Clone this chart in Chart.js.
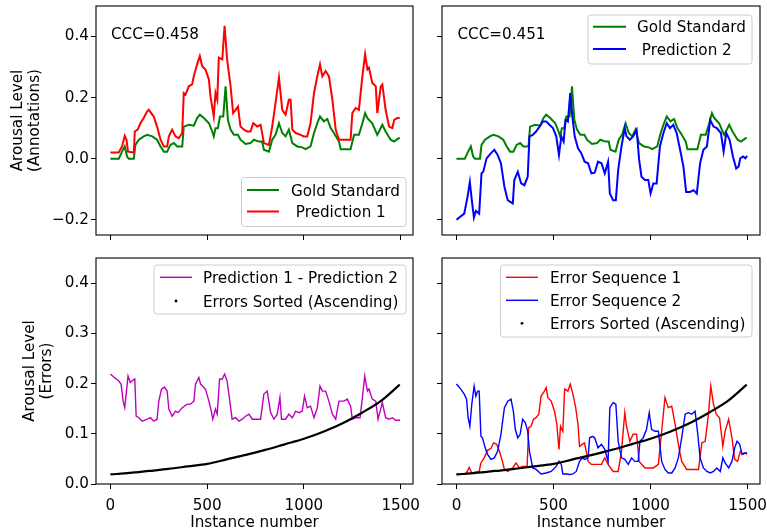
<!DOCTYPE html>
<html>
<head>
<meta charset="utf-8">
<script src="https://cdn.jsdelivr.net/npm/chart.js@4.4.0/dist/chart.umd.min.js"></script>
<style>
    html, body { margin: 0; padding: 0; background: #fff; }
    #wrap { position: relative; width: 767px; height: 531px; }
    #wrap canvas { position: absolute; left: 0; top: 0; }
</style>
</head>
<body>
<div id="wrap">
    <canvas id="annot1" width="767" height="531"></canvas>
    <canvas id="annot2" width="767" height="531"></canvas>
    <canvas id="errors1" width="767" height="531"></canvas>
    <canvas id="errors2" width="767" height="531"></canvas>
</div>
<script>
// --- Data (instance number, arousal level) ---
const xTicks = [0, 500, 1000, 1500];
const yTicksAnnot = [-0.2, 0.0, 0.2, 0.4];
const yTicksErr = [0.0, 0.1, 0.2, 0.3, 0.4];

const goldStandard = [[0,0],[43,0],[60,0.023],[74,0.040],[86,0.007],[95,0],[121,0],[129,0.045],[147,0.062],[172,0.073],
    [190,0.078],[216,0.073],[241,0.062],[259,0.040],[276,0.023],[293,0.023],[310,0.045],[328,0.051],[345,0.040],[371,0.040],
    [379,0.105],[405,0.111],[431,0.108],[448,0.133],[462,0.144],[483,0.133],[509,0.116],[526,0.089],[534,0.073],[543,0.100],
    [555,0.100],[566,0.138],[583,0.138],[595,0.237],[607,0.127],[621,0.095],[638,0.078],[659,0.078],[672,0.062],[698,0.048],
    [724,0.051],[741,0.062],[767,0.056],[784,0.056],[793,0.029],[819,0.023],[836,0.062],[853,0.078],[871,0.116],[888,0.084],
    [905,0.073],[922,0.095],[940,0.051],[966,0.040],[991,0.037],[1009,0.031],[1034,0.040],[1052,0.084],[1069,0.116],[1083,0.138],
    [1103,0.122],[1121,0.130],[1138,0.100],[1155,0.084],[1181,0.056],[1190,0.031],[1241,0.031],[1259,0.078],[1284,0.078],[1302,0.116],
    [1316,0.149],[1328,0.133],[1353,0.116],[1379,0.078],[1405,0.111],[1422,0.089],[1448,0.062],[1466,0.056],[1483,0.064],[1495,0.069]];

const prediction1 = [[0,0.020],[43,0.020],[60,0.040],[74,0.075],[83,0.062],[91,0.023],[121,0.020],[126,0.089],[141,0.095],[155,0.116],
    [172,0.133],[190,0.155],[198,0.160],[224,0.138],[241,0.105],[259,0.062],[276,0.040],[293,0.040],[302,0.073],[319,0.095],
    [336,0.073],[353,0.067],[371,0.084],[379,0.215],[388,0.210],[405,0.237],[422,0.243],[431,0.270],[448,0.309],[462,0.336],
    [474,0.303],[491,0.292],[509,0.259],[517,0.204],[534,0.138],[543,0.215],[552,0.193],[560,0.331],[578,0.325],[590,0.435],
    [603,0.325],[621,0.237],[634,0.149],[647,0.160],[659,0.171],[672,0.105],[690,0.095],[707,0.089],[724,0.089],[738,0.116],
    [759,0.105],[776,0.111],[793,0.051],[819,0.045],[836,0.105],[853,0.182],[871,0.265],[888,0.160],[905,0.144],[922,0.193],
    [931,0.193],[940,0.095],[957,0.084],[983,0.078],[1000,0.073],[1017,0.073],[1034,0.116],[1052,0.215],[1069,0.270],[1083,0.309],
    [1095,0.270],[1112,0.287],[1129,0.270],[1147,0.193],[1164,0.095],[1181,0.062],[1241,0.062],[1250,0.149],[1267,0.166],[1284,0.160],
    [1302,0.270],[1316,0.342],[1328,0.292],[1336,0.298],[1353,0.248],[1371,0.237],[1379,0.149],[1397,0.237],[1405,0.243],[1422,0.160],
    [1440,0.105],[1457,0.100],[1466,0.127],[1483,0.133],[1495,0.133]];

const prediction2 = [[0,-0.200],[40,-0.180],[57,-0.125],[69,-0.076],[79,-0.136],[90,-0.193],[100,-0.171],[117,-0.180],[129,-0.048],[138,-0.043],
    [155,0.001],[178,0.018],[195,0.029],[212,0.012],[229,-0.015],[247,-0.092],[264,-0.136],[290,-0.147],[298,-0.070],[316,-0.043],
    [333,-0.081],[350,-0.087],[367,-0.059],[376,0.073],[393,0.078],[410,0.089],[428,0.105],[445,0.122],[462,0.122],[479,0.111],
    [497,0.100],[514,0.073],[528,0.012],[540,0.073],[552,0.056],[562,0.127],[574,0.122],[586,0.215],[597,0.138],[609,0.073],
    [626,0.034],[643,0.018],[660,-0.010],[678,-0.015],[695,-0.048],[712,-0.046],[729,-0.010],[747,-0.015],[764,-0.048],[781,-0.010],
    [790,-0.114],[807,-0.136],[821,-0.136],[833,-0.037],[850,0.040],[867,0.100],[876,0.073],[893,0.062],[910,0.073],[928,0.095],
    [941,-0.004],[953,-0.059],[971,-0.070],[988,-0.070],[1000,-0.114],[1014,-0.081],[1031,-0.081],[1048,0.040],[1066,0.084],[1083,0.116],
    [1100,0.100],[1117,0.111],[1134,0.084],[1152,0.029],[1169,-0.026],[1183,-0.109],[1203,-0.109],[1221,-0.103],[1238,-0.114],[1255,-0.015],
    [1272,0.029],[1290,0.040],[1307,0.127],[1324,0.105],[1341,0.100],[1362,0.084],[1376,0.023],[1390,0.084],[1407,0.062],[1424,0.007],
    [1441,-0.032],[1453,-0.026],[1462,0.001],[1476,0.007],[1488,0.001],[1497,0.009]];

const predDiff = [[0,0.219],[17,0.213],[43,0.205],[55,0.199],[66,0.165],[74,0.152],[83,0.185],[91,0.215],[103,0.202],[117,0.207],
    [126,0.209],[133,0.135],[147,0.132],[164,0.125],[190,0.129],[207,0.132],[224,0.125],[241,0.129],[250,0.165],[264,0.189],
    [279,0.193],[293,0.185],[302,0.149],[319,0.135],[336,0.145],[350,0.142],[371,0.152],[397,0.159],[414,0.159],[431,0.165],
    [440,0.199],[457,0.212],[466,0.199],[491,0.189],[509,0.165],[521,0.145],[529,0.129],[543,0.149],[552,0.139],[564,0.209],
    [578,0.209],[590,0.219],[603,0.205],[617,0.165],[629,0.129],[647,0.132],[664,0.125],[681,0.129],[698,0.135],[716,0.139],
    [733,0.129],[759,0.129],[776,0.129],[793,0.179],[810,0.185],[828,0.142],[845,0.129],[862,0.139],[876,0.172],[884,0.129],
    [905,0.129],[922,0.139],[940,0.132],[957,0.145],[974,0.142],[991,0.145],[1003,0.175],[1017,0.152],[1034,0.155],[1052,0.132],
    [1069,0.152],[1083,0.195],[1095,0.185],[1112,0.185],[1129,0.165],[1147,0.139],[1164,0.129],[1181,0.165],[1207,0.165],[1224,0.169],
    [1241,0.155],[1250,0.129],[1267,0.132],[1290,0.132],[1302,0.172],[1314,0.215],[1328,0.185],[1336,0.189],[1353,0.169],[1371,0.165],
    [1383,0.129],[1405,0.162],[1422,0.132],[1440,0.129],[1457,0.132],[1474,0.127],[1497,0.127]];

const errorSeq1 = [[0,0.019],[48,0.020],[66,0.033],[79,0.022],[117,0.025],[126,0.042],[143,0.052],[160,0.067],[178,0.071],[191,0.082],
    [207,0.079],[221,0.065],[234,0.049],[247,0.029],[264,0.025],[290,0.032],[307,0.042],[324,0.032],[341,0.035],[364,0.035],
    [372,0.112],[384,0.115],[397,0.129],[410,0.132],[424,0.139],[436,0.175],[453,0.185],[462,0.192],[471,0.172],[488,0.165],
    [505,0.145],[517,0.119],[528,0.069],[536,0.115],[548,0.105],[557,0.189],[574,0.185],[586,0.199],[600,0.179],[614,0.152],
    [626,0.119],[634,0.075],[648,0.079],[660,0.082],[678,0.045],[695,0.039],[721,0.039],[747,0.039],[764,0.052],[781,0.039],
    [807,0.025],[833,0.025],[850,0.065],[867,0.142],[876,0.115],[893,0.085],[910,0.099],[928,0.099],[941,0.045],[971,0.032],
    [997,0.032],[1014,0.032],[1040,0.039],[1057,0.105],[1074,0.172],[1091,0.152],[1109,0.155],[1126,0.119],[1143,0.079],[1160,0.045],
    [1186,0.029],[1221,0.029],[1247,0.029],[1264,0.082],[1281,0.085],[1298,0.139],[1310,0.195],[1324,0.159],[1338,0.139],[1355,0.132],
    [1372,0.075],[1384,0.105],[1402,0.129],[1419,0.092],[1433,0.049],[1448,0.045],[1462,0.065],[1476,0.059],[1488,0.062],[1497,0.059]];

const errorSeq2 = [[0,0.199],[22,0.189],[40,0.179],[52,0.169],[60,0.132],[69,0.115],[79,0.159],[91,0.195],[100,0.175],[109,0.185],
    [117,0.185],[126,0.095],[134,0.092],[148,0.072],[160,0.059],[178,0.049],[195,0.052],[212,0.065],[229,0.099],[247,0.152],
    [264,0.165],[281,0.169],[293,0.145],[303,0.109],[316,0.092],[328,0.099],[341,0.129],[355,0.122],[367,0.105],[376,0.065],
    [393,0.032],[410,0.029],[436,0.020],[462,0.022],[488,0.025],[514,0.035],[528,0.045],[540,0.039],[548,0.020],[566,0.020],
    [583,0.019],[600,0.020],[617,0.025],[634,0.045],[648,0.052],[660,0.049],[678,0.052],[686,0.092],[700,0.095],[712,0.092],
    [729,0.072],[747,0.079],[764,0.069],[781,0.045],[790,0.152],[807,0.162],[821,0.159],[833,0.085],[850,0.052],[867,0.049],
    [885,0.039],[902,0.052],[919,0.045],[936,0.045],[945,0.085],[962,0.092],[979,0.109],[993,0.142],[1005,0.109],[1022,0.105],
    [1040,0.105],[1057,0.045],[1074,0.029],[1091,0.022],[1109,0.022],[1126,0.032],[1143,0.052],[1160,0.092],[1178,0.139],[1195,0.142],
    [1212,0.139],[1229,0.145],[1243,0.099],[1255,0.052],[1272,0.032],[1290,0.025],[1307,0.022],[1324,0.025],[1341,0.032],[1359,0.025],
    [1372,0.052],[1384,0.042],[1402,0.032],[1419,0.045],[1433,0.072],[1445,0.085],[1459,0.079],[1471,0.059],[1483,0.062],[1497,0.062]];

const errorsSorted = [[0,0.019],[100,0.022],[200,0.026],[300,0.030],[400,0.035],[500,0.040],[600,0.049],[700,0.058],
    [800,0.068],[900,0.079],[1000,0.090],[1100,0.104],[1200,0.121],[1300,0.142],[1400,0.166],[1495,0.198]];

// --- Layout helpers ---
const W = 767, H = 531;
const X_MIN = -74.5, X_MAX = 1563.5;
const FONT = { family: 'DejaVu Sans', size: 15.2 };

Chart.defaults.color = '#000';
Chart.defaults.font.family = FONT.family;

const pts = arr => arr.map(p => ({ x: p[0], y: p[1] }));
const fmtY = v => (v < 0 ? '\u2212' + Math.abs(v).toFixed(1) : v.toFixed(1));

// full black frame round the plot area (matplotlib spines)
const framePlugin = {
    id: 'frame',
    afterDraw(chart) {
        const a = chart.chartArea, ctx = chart.ctx;
        ctx.save();
        ctx.strokeStyle = '#000';
        ctx.lineWidth = 1.1;
        ctx.strokeRect(a.left, a.top, a.right - a.left, a.bottom - a.top);
        ctx.restore();
    }
};

// legend box drawn inside the axes, plus the CCC note
function overlayPlugin(lg, note) {
    return {
        id: 'overlay',
        afterDraw(chart) {
            const ctx = chart.ctx;
            ctx.save();
            ctx.font = FONT.size + 'px "' + FONT.family + '"';
            ctx.textBaseline = 'alphabetic';
            ctx.textAlign = 'left';
            if (note) {
                ctx.fillStyle = '#000';
                ctx.fillText(note.text, note.x, note.y);
            }
            ctx.beginPath();
            ctx.roundRect(lg.x, lg.y, lg.w, lg.h, 3);
            ctx.fillStyle = 'rgba(255,255,255,0.8)';
            ctx.fill();
            ctx.strokeStyle = '#cccccc';
            ctx.lineWidth = 1;
            ctx.stroke();
            lg.rows.forEach(r => {
                if (r.dot) {
                    ctx.beginPath();
                    ctx.arc((lg.h0 + lg.h1) / 2, r.y, 1.4, 0, Math.PI * 2);
                    ctx.fillStyle = r.color;
                    ctx.fill();
                } else {
                    ctx.beginPath();
                    ctx.moveTo(lg.h0, r.y);
                    ctx.lineTo(lg.h1, r.y);
                    ctx.strokeStyle = r.color;
                    ctx.lineWidth = r.width;
                    ctx.stroke();
                }
                ctx.fillStyle = '#000';
                ctx.fillText(r.text, lg.tx, r.y + 5.5);
            });
            ctx.restore();
        }
    };
}

function makeChart(id, c) {
    const tickGrid = { drawOnChartArea: false, drawTicks: true, tickLength: 5, color: '#000', lineWidth: 1 };
    return new Chart(document.getElementById(id), {
        type: 'line',
        data: { datasets: c.datasets },
        options: {
            responsive: false,
            animation: false,
            events: [],
            layout: { padding: { left: 0, top: c.box.top, right: W - c.box.right, bottom: 0 } },
            plugins: { legend: { display: false }, tooltip: { enabled: false } },
            elements: { point: { radius: 0 }, line: { tension: 0 } },
            scales: {
                x: {
                    type: 'linear', min: X_MIN, max: X_MAX,
                    afterBuildTicks: s => { s.ticks = xTicks.map(v => ({ value: v })); },
                    afterFit: s => { s.height = H - c.box.bottom; s.paddingLeft = 0; s.paddingRight = 0; },
                    ticks: { display: c.xLabels, maxRotation: 0, autoSkip: false, padding: 8, font: FONT, color: '#000', callback: v => String(v) },
                    grid: tickGrid,
                    border: { display: false },
                    title: { display: c.xLabels, text: 'Instance number', font: { ...FONT, lineHeight: 1.1 }, color: '#000', padding: { top: 0, bottom: 0 } }
                },
                y: {
                    type: 'linear', min: c.yMin, max: c.yMax,
                    afterBuildTicks: s => { s.ticks = c.yTicks.map(v => ({ value: v })); },
                    afterFit: s => { s.width = c.box.left; s.paddingTop = 0; s.paddingBottom = 0; },
                    ticks: { display: c.yLabels, padding: 2, font: FONT, color: '#000', callback: fmtY },
                    grid: tickGrid,
                    border: { display: false },
                    title: { display: !!c.yTitle, text: c.yTitle || '', font: { ...FONT, lineHeight: 1.1 }, color: '#000', padding: { top: c.yTitlePad || 0, bottom: 0 } }
                }
            }
        },
        plugins: [framePlugin, overlayPlugin(c.legend, c.note)]
    });
}

function series(data, color, width, order, smooth) {
    return {
        data: pts(data), borderColor: color, backgroundColor: color, borderWidth: width,
        pointRadius: 0, fill: false, order: order,
        cubicInterpolationMode: smooth ? 'monotone' : 'default'
    };
}

// Top left: gold standard vs prediction 1
makeChart('annot1', {
    box: { left: 96, right: 413, top: 6, bottom: 235 },
    yMin: -0.25, yMax: 0.5, yTicks: yTicksAnnot, yLabels: true, xLabels: false,
    yTitle: ['Arousal Level', '(Annotations)'], yTitlePad: 9.7,
    datasets: [
        series(goldStandard, '#008000', 2, 2),
        series(prediction1, '#ff0000', 2, 1)
    ],
    note: { text: 'CCC=0.458', x: 111, y: 38.5 },
    legend: { x: 241.5, y: 177.5, w: 164.5, h: 49, h0: 247, h1: 279, tx: 291, rows: [
        { text: 'Gold Standard', color: '#008000', width: 2, y: 190 },
        { text: ' Prediction 1', color: '#ff0000', width: 2, y: 211.5 }
    ] }
});

// Top right: gold standard vs prediction 2
makeChart('annot2', {
    box: { left: 442, right: 760, top: 6, bottom: 235 },
    yMin: -0.25, yMax: 0.5, yTicks: yTicksAnnot, yLabels: false, xLabels: false,
    datasets: [
        series(goldStandard, '#008000', 2, 2),
        series(prediction2, '#0000ff', 2, 1)
    ],
    note: { text: 'CCC=0.451', x: 457.5, y: 38.5 },
    legend: { x: 588, y: 15, w: 164, h: 49, h0: 593, h1: 626, tx: 637, rows: [
        { text: 'Gold Standard', color: '#008000', width: 2, y: 26.7 },
        { text: ' Prediction 2', color: '#0000ff', width: 2, y: 49 }
    ] }
});

// Bottom left: difference of predictions + sorted errors
makeChart('errors1', {
    box: { left: 96, right: 413, top: 258, bottom: 484 },
    yMin: 0, yMax: 0.45, yTicks: yTicksErr, yLabels: true, xLabels: true,
    yTitle: ['Arousal Level', '(Errors)'], yTitlePad: 21.6,
    datasets: [
        series(predDiff, '#bf00bf', 1.4, 2),
        series(errorsSorted, '#000000', 2.2, 1, true)
    ],
    legend: { x: 154, y: 265, w: 252, h: 49, h0: 160, h1: 192, tx: 203, rows: [
        { text: 'Prediction 1 - Prediction 2', color: '#bf00bf', width: 1.4, y: 277.3 },
        { text: 'Errors Sorted (Ascending)', color: '#000', dot: true, y: 301 }
    ] }
});

// Bottom right: both error sequences + sorted errors
makeChart('errors2', {
    box: { left: 442, right: 760, top: 258, bottom: 484 },
    yMin: 0, yMax: 0.45, yTicks: yTicksErr, yLabels: false, xLabels: true,
    datasets: [
        series(errorSeq1, '#ff0000', 1.4, 3),
        series(errorSeq2, '#0000ff', 1.4, 2),
        series(errorsSorted, '#000000', 2.2, 1, true)
    ],
    legend: { x: 500.5, y: 265, w: 251.5, h: 72, h0: 506, h1: 538, tx: 550, rows: [
        { text: 'Error Sequence 1', color: '#ff0000', width: 1.4, y: 277.3 },
        { text: 'Error Sequence 2', color: '#0000ff', width: 1.4, y: 300.3 },
        { text: 'Errors Sorted (Ascending)', color: '#000', dot: true, y: 323.3 }
    ] }
});
</script>
</body>
</html>
